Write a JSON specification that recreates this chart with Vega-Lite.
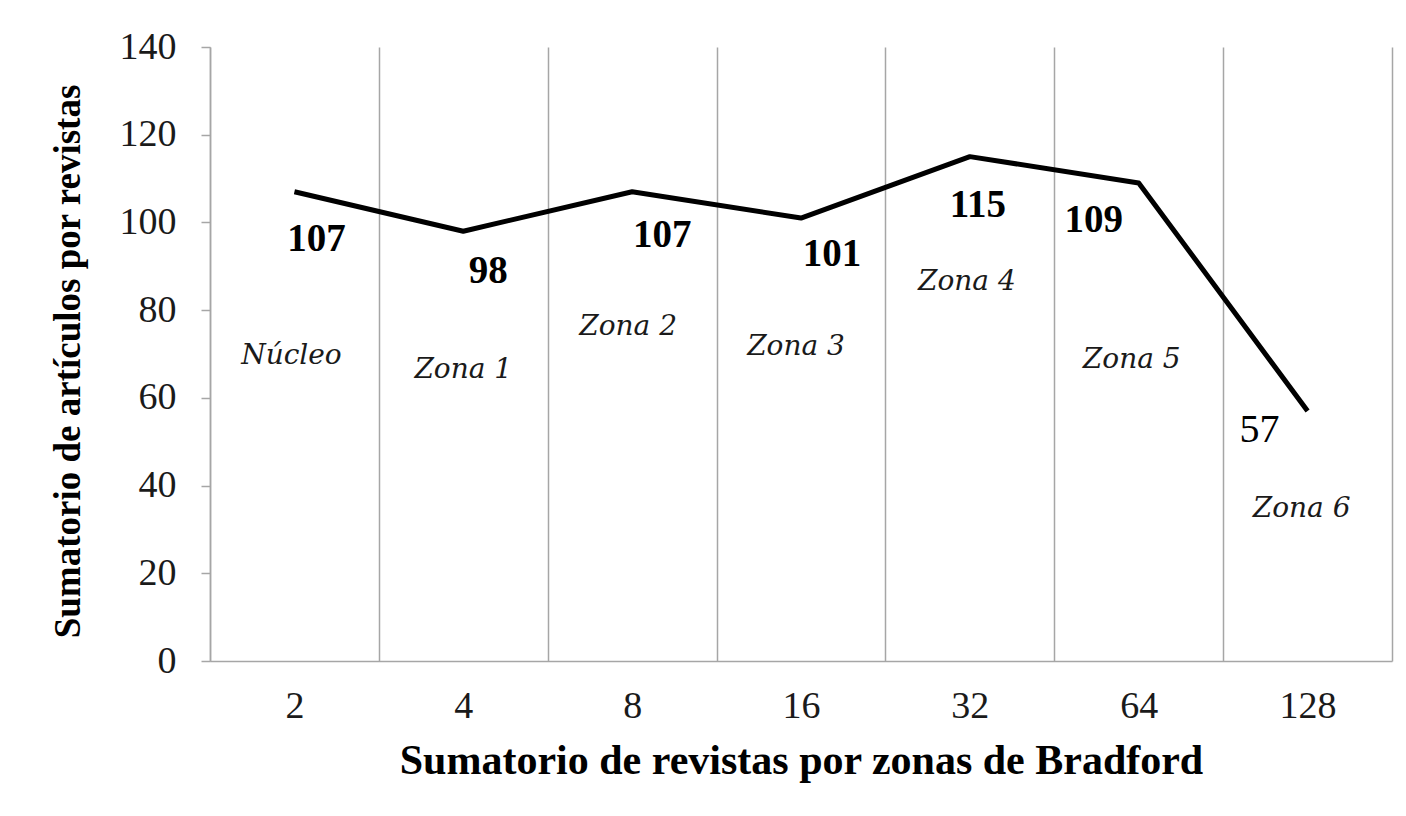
{
  "$schema": "https://vega.github.io/schema/vega-lite/v6.json",
  "width": 1182,
  "height": 614,
  "autosize": "none",
  "padding": {"left": 210, "top": 47, "right": 14, "bottom": 155},
  "background": "white",
  "config": {"view": {"stroke": null}, "font": "Liberation Serif"},
  "data": {
    "values": [
      {"revistas": "2", "articulos": 107, "zona": "Núcleo"},
      {"revistas": "4", "articulos": 98, "zona": "Zona 1"},
      {"revistas": "8", "articulos": 107, "zona": "Zona 2"},
      {"revistas": "16", "articulos": 101, "zona": "Zona 3"},
      {"revistas": "32", "articulos": 115, "zona": "Zona 4"},
      {"revistas": "64", "articulos": 109, "zona": "Zona 5"},
      {"revistas": "128", "articulos": 57, "zona": "Zona 6"}
    ]
  },
  "encoding": {
    "x": {
      "field": "revistas",
      "type": "ordinal",
      "sort": ["2", "4", "8", "16", "32", "64", "128"],
      "scale": {"type": "band", "paddingInner": 0, "paddingOuter": 0},
      "axis": {
        "title": "Sumatorio de revistas por zonas de Bradford",
        "titleFont": "Liberation Serif",
        "titleFontSize": 42,
        "titleFontWeight": "bold",
        "titleColor": "#000000",
        "titleBaseline": "middle",
        "titleY": 99,
        "labelAngle": 0,
        "labelFont": "Liberation Serif",
        "labelFontSize": 38,
        "labelColor": "#1a1a1a",
        "labelBaseline": "middle",
        "labelPadding": 45,
        "ticks": false,
        "grid": true,
        "tickBand": "extent",
        "gridColor": "#a6a6a6",
        "gridWidth": 1.5,
        "domainColor": "#a6a6a6",
        "domainWidth": 1.5
      }
    },
    "y": {
      "field": "articulos",
      "type": "quantitative",
      "scale": {"domain": [0, 140], "nice": false},
      "axis": {
        "title": "Sumatorio de artículos por revistas",
        "titleFont": "Liberation Serif",
        "titleFontSize": 37,
        "titleFontWeight": "bold",
        "titleColor": "#000000",
        "titleAngle": -90,
        "titleBaseline": "middle",
        "titleAlign": "center",
        "titleX": -142,
        "titleY": 314,
        "values": [0, 20, 40, 60, 80, 100, 120, 140],
        "labelFont": "Liberation Serif",
        "labelFontSize": 38,
        "labelColor": "#1a1a1a",
        "labelPadding": 25,
        "tickSize": 9,
        "tickColor": "#a6a6a6",
        "tickWidth": 1.5,
        "grid": false,
        "domainColor": "#a6a6a6",
        "domainWidth": 1.5
      }
    }
  },
  "layer": [
    {"mark": {"type": "line", "color": "#000000", "strokeWidth": 5, "strokeJoin": "round"}},
    {"transform": [{"filter": "datum.revistas == '2'"}], "mark": {"type": "text", "fontSize": 39, "fontWeight": "bold", "color": "#000000", "baseline": "middle", "dx": 22, "dy": 47}, "encoding": {"text": {"field": "articulos"}}},
    {"transform": [{"filter": "datum.revistas == '4'"}], "mark": {"type": "text", "fontSize": 39, "fontWeight": "bold", "color": "#000000", "baseline": "middle", "dx": 25, "dy": 40}, "encoding": {"text": {"field": "articulos"}}},
    {"transform": [{"filter": "datum.revistas == '8'"}], "mark": {"type": "text", "fontSize": 39, "fontWeight": "bold", "color": "#000000", "baseline": "middle", "dx": 30, "dy": 43}, "encoding": {"text": {"field": "articulos"}}},
    {"transform": [{"filter": "datum.revistas == '16'"}], "mark": {"type": "text", "fontSize": 39, "fontWeight": "bold", "color": "#000000", "baseline": "middle", "dx": 31, "dy": 36}, "encoding": {"text": {"field": "articulos"}}},
    {"transform": [{"filter": "datum.revistas == '32'"}], "mark": {"type": "text", "fontSize": 39, "fontWeight": "bold", "color": "#000000", "baseline": "middle", "dx": 8, "dy": 48}, "encoding": {"text": {"field": "articulos"}}},
    {"transform": [{"filter": "datum.revistas == '64'"}], "mark": {"type": "text", "fontSize": 39, "fontWeight": "bold", "color": "#000000", "baseline": "middle", "dx": -45, "dy": 37}, "encoding": {"text": {"field": "articulos"}}},
    {"transform": [{"filter": "datum.revistas == '128'"}], "mark": {"type": "text", "fontSize": 40, "fontWeight": "normal", "color": "#000000", "baseline": "middle", "dx": -48, "dy": 19}, "encoding": {"text": {"field": "articulos"}}},
    {"transform": [{"filter": "datum.revistas == '2'"}], "mark": {"type": "text", "font": "DejaVu Serif", "fontSize": 28, "fontStyle": "italic", "color": "#1a1a1a", "baseline": "middle", "dx": -3, "dy": 164}, "encoding": {"text": {"field": "zona"}}},
    {"transform": [{"filter": "datum.revistas == '4'"}], "mark": {"type": "text", "font": "DejaVu Serif", "fontSize": 28, "fontStyle": "italic", "color": "#1a1a1a", "baseline": "middle", "dx": 0, "dy": 139}, "encoding": {"text": {"field": "zona"}}},
    {"transform": [{"filter": "datum.revistas == '8'"}], "mark": {"type": "text", "font": "DejaVu Serif", "fontSize": 28, "fontStyle": "italic", "color": "#1a1a1a", "baseline": "middle", "dx": -4, "dy": 135}, "encoding": {"text": {"field": "zona"}}},
    {"transform": [{"filter": "datum.revistas == '16'"}], "mark": {"type": "text", "font": "DejaVu Serif", "fontSize": 28, "fontStyle": "italic", "color": "#1a1a1a", "baseline": "middle", "dx": -5, "dy": 129}, "encoding": {"text": {"field": "zona"}}},
    {"transform": [{"filter": "datum.revistas == '32'"}], "mark": {"type": "text", "font": "DejaVu Serif", "fontSize": 28, "fontStyle": "italic", "color": "#1a1a1a", "baseline": "middle", "dx": -3, "dy": 125}, "encoding": {"text": {"field": "zona"}}},
    {"transform": [{"filter": "datum.revistas == '64'"}], "mark": {"type": "text", "font": "DejaVu Serif", "fontSize": 28, "fontStyle": "italic", "color": "#1a1a1a", "baseline": "middle", "dx": -7, "dy": 177}, "encoding": {"text": {"field": "zona"}}},
    {"transform": [{"filter": "datum.revistas == '128'"}], "mark": {"type": "text", "font": "DejaVu Serif", "fontSize": 28, "fontStyle": "italic", "color": "#1a1a1a", "baseline": "middle", "dx": -6, "dy": 98}, "encoding": {"text": {"field": "zona"}}}
  ]
}
